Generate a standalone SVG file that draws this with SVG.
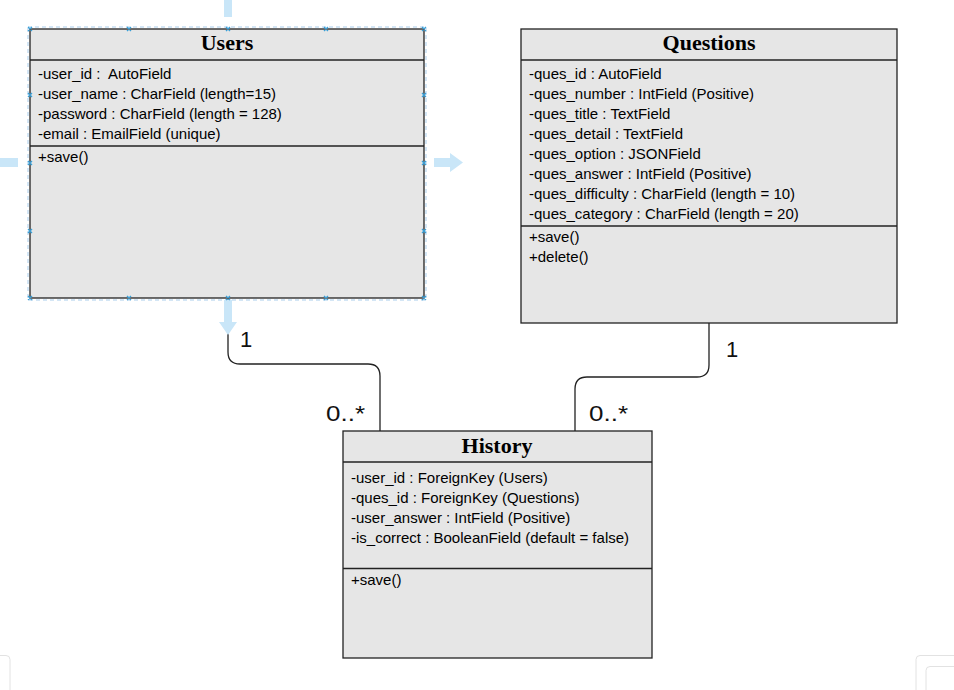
<svg xmlns="http://www.w3.org/2000/svg" width="954" height="690" viewBox="0 0 954 690">
<style>
.box{fill:#e6e6e6;stroke:#222;stroke-width:1.3}
.sep{stroke:#222;stroke-width:1.3}
.title{font-family:"Liberation Serif","Times New Roman",serif;font-weight:bold;font-size:22px;fill:#000;text-anchor:middle}
.attr{font-family:"Liberation Sans",Arial,sans-serif;font-size:15px;fill:#000}
.lbl{font-family:"Liberation Sans",Arial,sans-serif;font-size:22px;fill:#111}
.edge{fill:none;stroke:#222;stroke-width:1.3}
.hint{fill:#c9e6f8}
.hdl{stroke:#3aa0d8;stroke-width:1.3}
.ui{fill:none;stroke:#e2e2e2;stroke-width:1}
</style>
<rect width="954" height="690" fill="#ffffff"/>

<g id="users">
<rect class="box" x="30" y="29" width="394" height="269"/>
<line class="sep" x1="30" y1="60" x2="424" y2="60"/>
<line class="sep" x1="30" y1="146" x2="424" y2="146"/>
<text class="title" x="227" y="50">Users</text>
<text class="attr" x="38" y="79" xml:space="preserve">-user_id :  AutoField</text>
<text class="attr" x="38" y="99">-user_name : CharField (length=15)</text>
<text class="attr" x="38" y="119">-password : CharField (length = 128)</text>
<text class="attr" x="38" y="139">-email : EmailField (unique)</text>
<text class="attr" x="38" y="162">+save()</text>
</g>

<g id="questions">
<rect class="box" x="521" y="29" width="376" height="294"/>
<line class="sep" x1="521" y1="60" x2="897" y2="60"/>
<line class="sep" x1="521" y1="226" x2="897" y2="226"/>
<text class="title" x="709" y="50">Questions</text>
<text class="attr" x="529" y="79">-ques_id : AutoField</text>
<text class="attr" x="529" y="99">-ques_number : IntField (Positive)</text>
<text class="attr" x="529" y="119">-ques_title : TextField</text>
<text class="attr" x="529" y="139">-ques_detail : TextField</text>
<text class="attr" x="529" y="159">-ques_option : JSONField</text>
<text class="attr" x="529" y="179">-ques_answer : IntField (Positive)</text>
<text class="attr" x="529" y="199">-ques_difficulty : CharField (length = 10)</text>
<text class="attr" x="529" y="219">-ques_category : CharField (length = 20)</text>
<text class="attr" x="529" y="242">+save()</text>
<text class="attr" x="529" y="262">+delete()</text>
</g>

<g id="history">
<rect class="box" x="343" y="431" width="309" height="227"/>
<line class="sep" x1="343" y1="462" x2="652" y2="462"/>
<line class="sep" x1="343" y1="568.5" x2="652" y2="568.5"/>
<text class="title" x="497" y="453">History</text>
<text class="attr" x="351" y="483">-user_id : ForeignKey (Users)</text>
<text class="attr" x="351" y="503">-ques_id : ForeignKey (Questions)</text>
<text class="attr" x="351" y="523">-user_answer : IntField (Positive)</text>
<text class="attr" x="351" y="543">-is_correct : BooleanField (default = false)</text>
<text class="attr" x="351" y="585">+save()</text>
</g>

<g id="connectors">
<path class="edge" d="M228 298 V352 Q228 364 240 364 H368 Q380 364 380 376 V431"/>
<path class="edge" d="M709 323 V365 Q709 377 697 377 H587 Q575 377 575 389 V431"/>
<text class="lbl" x="240" y="347">1</text>
<text class="lbl" x="326" y="421" textLength="39" lengthAdjust="spacingAndGlyphs">0..*</text>
<text class="lbl" x="726" y="357">1</text>
<text class="lbl" x="589" y="421" textLength="39" lengthAdjust="spacingAndGlyphs">0..*</text>
</g>

<g id="selection">
<rect x="28" y="27" width="398" height="273" fill="none" stroke="#a9cdeb" stroke-width="1" stroke-dasharray="4 3"/>
<rect class="hint" x="224" y="0" width="8" height="17"/>
<rect class="hint" x="0" y="158" width="18" height="9"/>
<path class="hint" d="M434 158 H450 V153 L463 162.5 L450 172 V167 H434 Z"/>
<path class="hint" d="M224 300 V322 H219 L228 335 L237 322 H232 V300 Z"/>
<g class="hdl">
<path d="M28 27 l4 4 M32 27 l-4 4 M127 27 l4 4 M131 27 l-4 4 M226 27 l4 4 M230 27 l-4 4 M324 27 l4 4 M328 27 l-4 4 M422 27 l4 4 M426 27 l-4 4"/>
<path d="M28 296 l4 4 M32 296 l-4 4 M127 296 l4 4 M131 296 l-4 4 M226 296 l4 4 M230 296 l-4 4 M324 296 l4 4 M328 296 l-4 4 M422 296 l4 4 M426 296 l-4 4"/>
<path d="M28 93 l4 4 M32 93 l-4 4 M28 161 l4 4 M32 161 l-4 4 M28 229 l4 4 M32 229 l-4 4"/>
<path d="M422 93 l4 4 M426 93 l-4 4 M422 161 l4 4 M426 161 l-4 4 M422 229 l4 4 M426 229 l-4 4"/>
</g>
</g>

<g id="ui">
<path class="ui" d="M0 655.5 H6 Q10 655.5 10 659.5 V690"/>
<path class="ui" d="M954 655.5 H920 Q916 655.5 916 659.5 V690"/>
<path class="ui" d="M954 666.5 H930 Q926 666.5 926 670.5 V690" stroke="#d6d6d6"/>
</g>
</svg>
